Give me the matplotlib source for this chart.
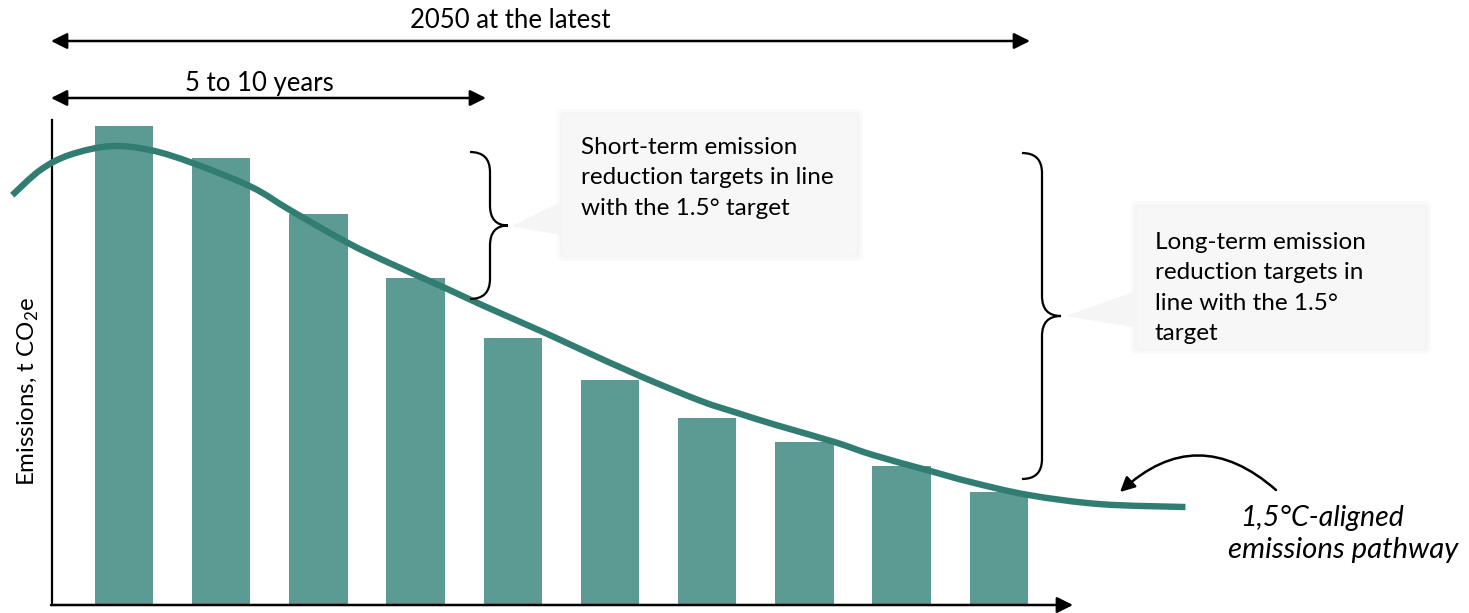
import matplotlib
matplotlib.use("Agg")
import matplotlib.pyplot as plt
from matplotlib.path import Path
from matplotlib.patches import PathPatch, FancyBboxPatch, Polygon

plt.rcParams['font.family'] = ['Lato', 'DejaVu Sans']
plt.rcParams['mathtext.fontset'] = 'custom'
plt.rcParams['mathtext.rm'] = 'Lato'

# ---- data ----
years = [0, 1, 2, 3, 4, 5, 6, 7, 8, 9]
emissions = [98.8, 92.2, 80.6, 67.4, 55.1, 46.4, 38.6, 33.6, 28.7, 23.3]
path_x = [-1.15, -0.86, -0.56, -0.14, 0.27, 0.71, 1.31, 1.71, 2.29, 2.71, 3.30,
          3.71, 4.31, 4.71, 5.31, 5.93, 6.31, 6.71, 7.31, 7.71, 8.30, 8.70, 9.30,
          10.04, 10.92]
path_y = [84.5, 89.7, 92.8, 94.6, 93.8, 91.1, 86.2, 81.4, 74.8, 70.7, 65.4,
          61.6, 56.3, 52.6, 47.2, 42.1, 39.6, 37.1, 33.6, 30.9, 27.6, 25.4, 22.7,
          20.8, 20.2]

W, H = 1469, 613
BAR = '#5c9b93'
LINE = '#317d71'

fig = plt.figure(figsize=(W / 100, H / 100), dpi=100)
ax = fig.add_axes([52 / W, (H - 605) / H, (1062 - 52) / W, (605 - 120) / H])
ax.bar(years, emissions, width=0.6, color=BAR, zorder=2)

# smooth path through the points (Catmull-Rom as cubic Bezier segments)
pts = list(zip(path_x, path_y))
verts = [pts[0]]
codes = [Path.MOVETO]
for i in range(len(pts) - 1):
    p0 = pts[i - 1] if i > 0 else pts[i]
    p1 = pts[i]
    p2 = pts[i + 1]
    p3 = pts[i + 2] if i + 2 < len(pts) else pts[i + 1]
    c1 = (p1[0] + (p2[0] - p0[0]) / 6, p1[1] + (p2[1] - p0[1]) / 6)
    c2 = (p2[0] - (p3[0] - p1[0]) / 6, p2[1] - (p3[1] - p1[1]) / 6)
    verts += [c1, c2, p2]
    codes += [Path.CURVE4] * 3
ax.add_patch(PathPatch(Path(verts, codes), fc='none', ec=LINE, lw=4.6,
                       clip_on=False, zorder=3, capstyle='butt'))

ax.set_xlim(-0.741, 9.650)
ax.set_ylim(0, 100)
ax.set_xticks([])
ax.set_yticks([])
for s in ['top', 'right', 'bottom']:
    ax.spines[s].set_visible(False)
ax.spines['left'].set_linewidth(1.6)
ax.set_ylabel('Emissions, t CO$_2$e', fontsize=17.3)
ax.yaxis.set_label_coords(-11 / (1062 - 52), (605 - 391) / (605 - 120))

# ---- overlay in pixel coordinates ----
ov = fig.add_axes([0, 0, 1, 1])
ov.set_xlim(0, W)
ov.set_ylim(H, 0)
ov.axis('off')

def dbl_arrow(x0, x1, y, style='<|-|>'):
    ov.annotate('', xy=(x1, y), xytext=(x0, y),
                arrowprops=dict(arrowstyle=style, lw=1.8, color='black',
                                mutation_scale=24, shrinkA=0, shrinkB=0))

dbl_arrow(51, 1030, 41)
dbl_arrow(51, 486, 98)
ov.text(510, 21, '2050 at the latest', fontsize=18.5, ha='center', va='center')
ov.text(259, 84, '5 to 10 years', fontsize=18.5, ha='center', va='center')

# x axis arrow
dbl_arrow(51, 1073, 605, style='-|>')

def brace(x0, xm, xt, ytop, ybot, r=20):
    ymid = (ytop + ybot) / 2
    verts = [(x0, ytop), (xm, ytop), (xm, ytop + r),
             (xm, ymid - r),
             (xm, ymid), (xt, ymid),
             (xm, ymid), (xm, ymid + r),
             (xm, ybot - r),
             (xm, ybot), (x0, ybot)]
    codes = [Path.MOVETO, Path.CURVE3, Path.CURVE3,
             Path.LINETO,
             Path.CURVE3, Path.CURVE3,
             Path.CURVE3, Path.CURVE3,
             Path.LINETO,
             Path.CURVE3, Path.CURVE3]
    ov.add_patch(PathPatch(Path(verts, codes), fc='none', ec='black', lw=1.6))

brace(470, 490, 508, 152, 299)
brace(1022, 1042, 1061, 153, 479)

def callout(x0, y0, x1, y1, tip, p0, p1):
    for pad, a in [(6, 0.25), (3, 0.35)]:
        ov.add_patch(FancyBboxPatch((x0 - pad, y0 - pad), x1 - x0 + 2 * pad,
                                    y1 - y0 + 2 * pad,
                                    boxstyle='round,pad=0,rounding_size=6',
                                    fc='#ececec', ec='none', alpha=a))
    ov.add_patch(Polygon([(x0 + 2, p0), tip, (x0 + 2, p1)], closed=True,
                         fc='#f5f5f5', ec='none'))
    ov.add_patch(FancyBboxPatch((x0, y0), x1 - x0, y1 - y0,
                                boxstyle='round,pad=0,rounding_size=4',
                                fc='#f7f7f7', ec='none'))

callout(563, 115, 857, 255, (512, 226), 200, 236)
callout(1137, 207, 1425, 348, (1066, 316), 290, 328)

ov.text(581, 178, 'Short-term emission\nreduction targets in line\nwith the 1.5° target',
        fontsize=17.5, ha='left', va='center', linespacing=1.54)
ov.text(1155, 288, 'Long-term emission\nreduction targets in\nline with the 1.5°\ntarget',
        fontsize=17.5, ha='left', va='center', linespacing=1.54)

# curved arrow to pathway
ov.annotate('', xy=(1120, 492), xytext=(1276, 490),
            arrowprops=dict(arrowstyle='-|>', lw=1.8, color='black',
                            mutation_scale=22, shrinkA=0, shrinkB=0,
                            connectionstyle='arc3,rad=0.45'))
ov.text(1240, 518, '1,5°C-aligned', fontsize=20.5, style='italic',
        ha='left', va='center')
ov.text(1228, 550, 'emissions pathway', fontsize=21.2, style='italic',
        ha='left', va='center')

fig.savefig('out.png', dpi=100)
